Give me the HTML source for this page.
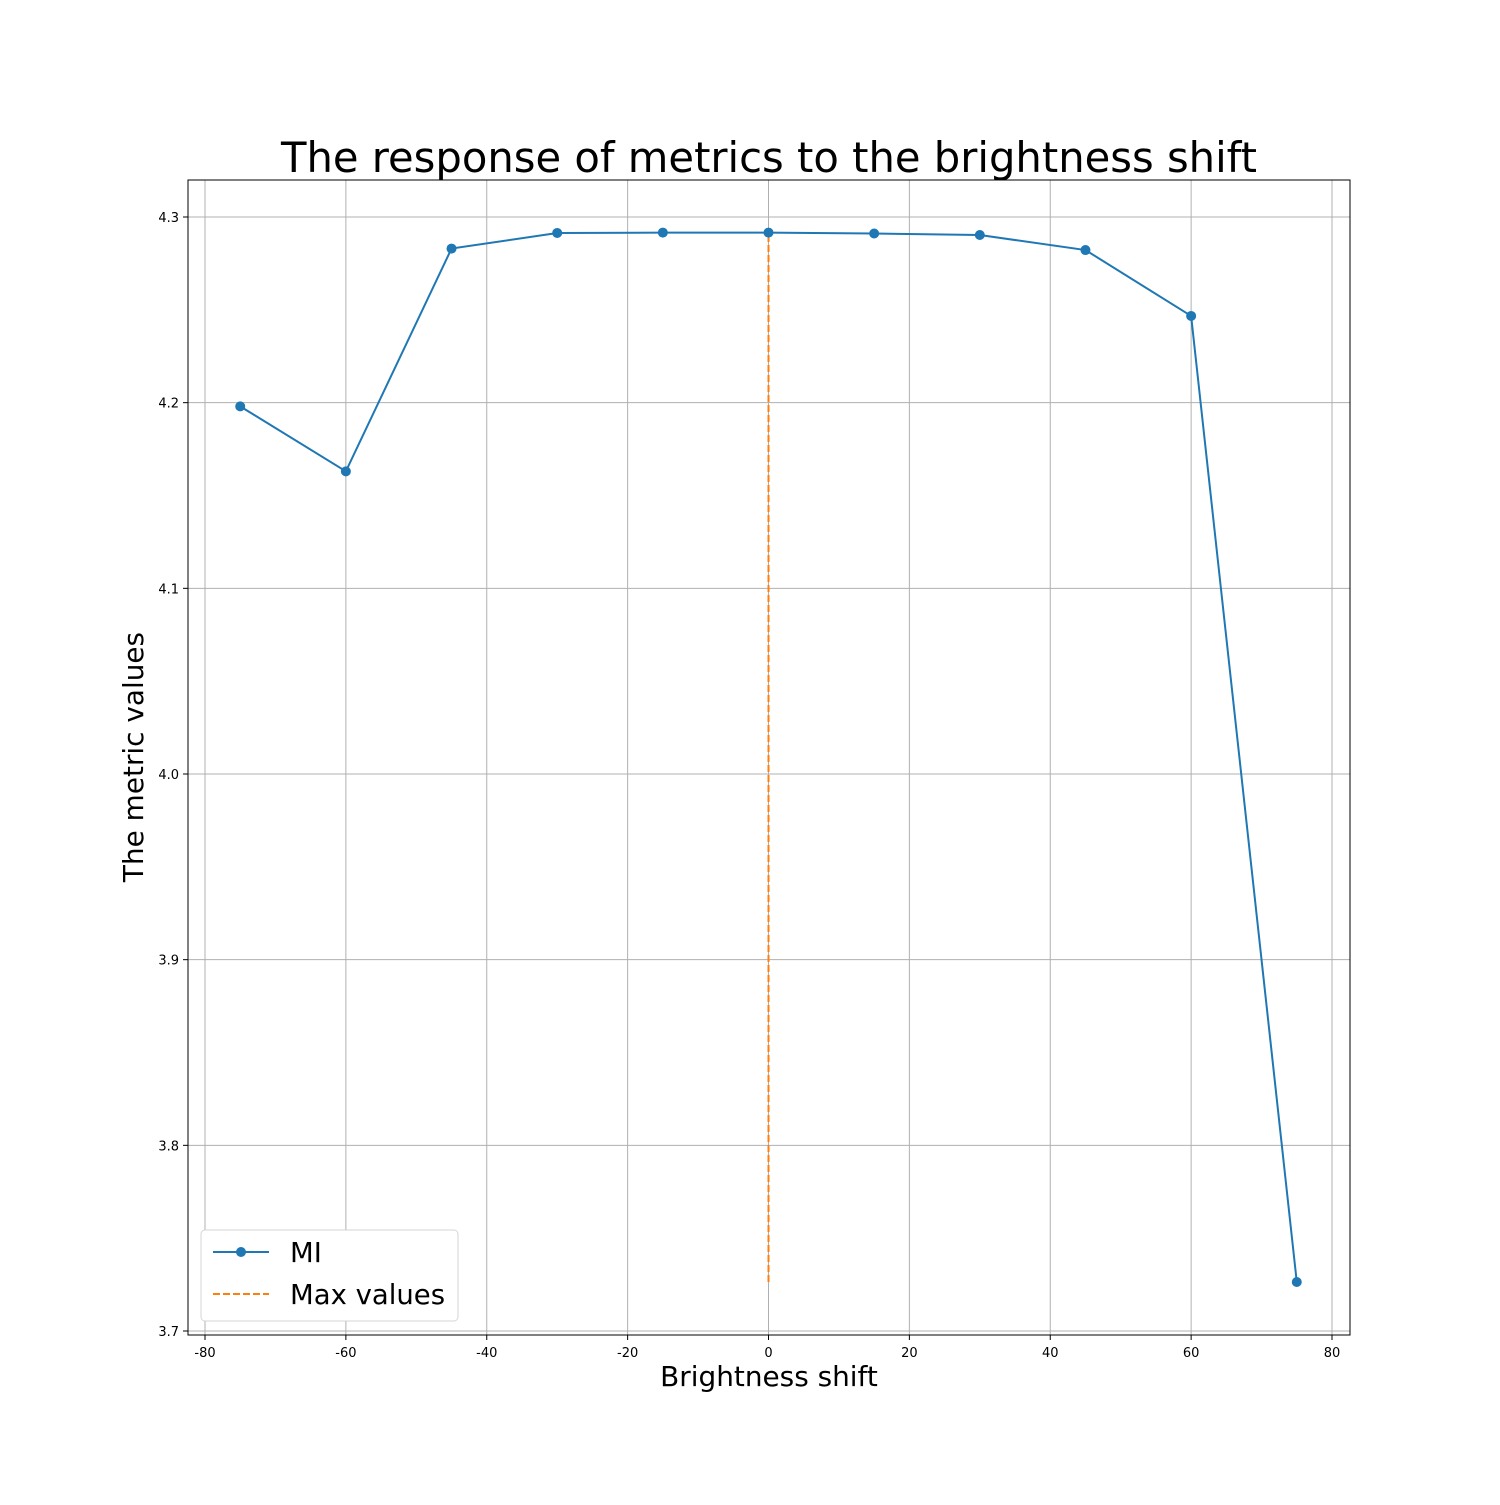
<!DOCTYPE html>
<html><head><meta charset="utf-8"><style>
body{margin:0;background:#fff;}
svg text{font-family:"DejaVu Sans","Liberation Sans",sans-serif;}
</style></head><body>
<svg id="chart" width="1500" height="1500" xmlns="http://www.w3.org/2000/svg">
<rect width="1500" height="1500" fill="#fff"/>
<g id="grid"></g>
<g id="ticks"></g>
<g id="series"></g>
<rect x="188" y="180" width="1162" height="1155" fill="none" stroke="#000" stroke-width="1"/>
<text x="769" y="172" font-size="41.7" text-anchor="middle">The response of metrics to the brightness shift</text>
<text x="769" y="1386" font-size="27.9" text-anchor="middle">Brightness shift</text>
<text transform="translate(143,757) rotate(-90)" font-size="27.9" text-anchor="middle">The metric values</text>
<g>
<rect x="201" y="1230" width="257" height="91" rx="4" fill="#fff" stroke="#ccc" stroke-opacity="0.8"/>
<line x1="213" y1="1252" x2="269" y2="1252" stroke="#1f77b4" stroke-width="2"/>
<circle cx="241" cy="1252" r="5" fill="#1f77b4"/>
<text x="290" y="1262" font-size="27.5">MI</text>
<line x1="213" y1="1294" x2="269" y2="1294" stroke="#ff7f0e" stroke-width="2" stroke-dasharray="7,3"/>
<text x="290" y="1304" font-size="27.5">Max values</text>
</g>
</svg>
<script>
const xValues=[-75,-60,-45,-30,-15,0,15,30,45,60,75];
const miValues=[4.198,4.163,4.283,4.2914,4.2916,4.2916,4.2911,4.2903,4.2822,4.2467,3.7264];
const xTicks=[-80,-60,-40,-20,0,20,40,60,80];
const yTicks=[3.7,3.8,3.9,4.0,4.1,4.2,4.3];
const maxX=[0];
const NS="http://www.w3.org/2000/svg";
function sx(v){return 768.5+v*(1127/160);}
function sy(v){return 217+(4.3-v)*(1114/0.6);}
function mk(tag,attrs,parent){const e=document.createElementNS(NS,tag);for(const k in attrs)e.setAttribute(k,attrs[k]);parent.appendChild(e);return e;}
const grid=document.getElementById('grid'),ticks=document.getElementById('ticks'),series=document.getElementById('series');
xTicks.forEach(t=>{const x=sx(t);
 const g=mk('line',{x1:x,x2:x,y1:180,y2:1335,stroke:'#b0b0b0','stroke-width':1},grid);
 
 
 mk('line',{x1:x,x2:x,y1:1335,y2:1340,stroke:'#000'},ticks);
 const l=mk('text',{x:x,y:1357,'font-size':13,'text-anchor':'middle'},ticks);l.textContent=t;
 
 
});
yTicks.forEach(t=>{const y=sy(t);
 const g=mk('line',{x1:188,x2:1350,y1:y,y2:y,stroke:'#b0b0b0','stroke-width':1},grid);
 
 
 mk('line',{x1:183,x2:188,y1:y,y2:y,stroke:'#000'},ticks);
 const l=mk('text',{x:179,y:y+5,'font-size':13,'text-anchor':'end'},ticks);l.textContent=t.toFixed(1);
 
 
});
const mn=Math.min(...miValues),mx=Math.max(...miValues);
maxX.forEach(v=>{const m=mk('line',{x1:sx(v),x2:sx(v),y1:sy(mn),y2:sy(mx),stroke:'#ff7f0e','stroke-width':2,'stroke-dasharray':'7,3'},series);
 
 
});
const p=mk('polyline',{points:xValues.map((x,i)=>sx(x)+','+sy(miValues[i])).join(' '),fill:'none',stroke:'#1f77b4','stroke-width':2},series);


xValues.forEach((x,i)=>{const c=mk('circle',{cx:sx(x),cy:sy(miValues[i]),r:5,fill:'#1f77b4'},series);
 
 
});
</script>
</body></html>
